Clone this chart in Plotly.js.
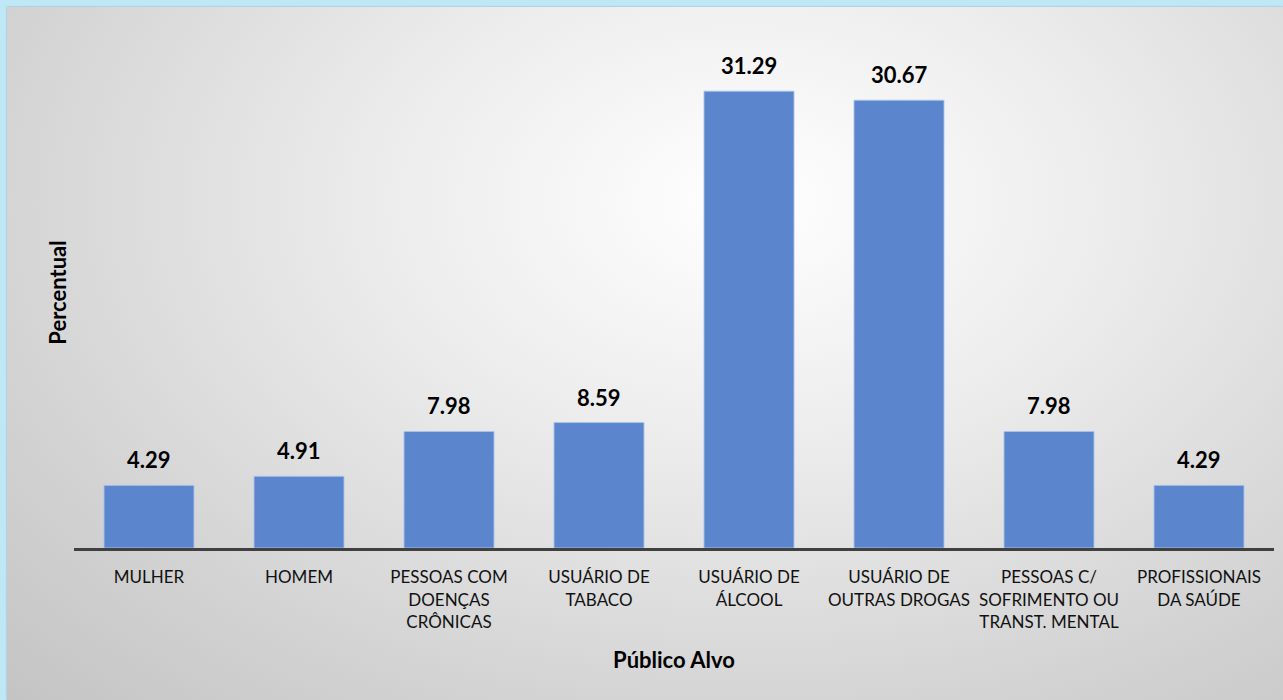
<!DOCTYPE html>
<html>
<head>
<meta charset="utf-8">
<script src="https://cdn.plot.ly/plotly-3.0.1.min.js"></script>
<style>
  html, body { margin: 0; padding: 0; width: 1283px; height: 700px; overflow: hidden; background: #BFE8F6; }
  #frame { position: absolute; left: 7px; top: 7px; width: 1276px; height: 693px;
    background: radial-gradient(ellipse farthest-corner at 58% 28%, #ffffff 0%, #ececec 35%, #d2d2d2 75%, #c4c4c4 100%);
    box-shadow: 0 0 2px rgba(0,0,0,0.25); }
  #chart { position: absolute; left: 0; top: 0; width: 1283px; height: 700px; }
</style>
</head>
<body>
<div id="frame"></div>
<div id="chart"></div>
<script>
const categories = [
  "MULHER",
  "HOMEM",
  "PESSOAS COM<br>DOENÇAS<br>CRÔNICAS",
  "USUÁRIO DE<br>TABACO",
  "USUÁRIO DE<br>ÁLCOOL",
  "USUÁRIO DE<br>OUTRAS DROGAS",
  "PESSOAS C/<br>SOFRIMENTO OU<br>TRANST. MENTAL",
  "PROFISSIONAIS<br>DA SAÚDE"
];
const values = [4.29, 4.91, 7.98, 8.59, 31.29, 30.67, 7.98, 4.29];
const valueLabels = ["4.29", "4.91", "7.98", "8.59", "31.29", "30.67", "7.98", "4.29"];

const FONT = "Lato, 'Open Sans', 'Liberation Sans', sans-serif";

const trace = {
  type: "bar",
  x: categories,
  y: values,
  marker: { color: "#5B86CD", line: { color: "rgba(170,195,235,0.9)", width: 1 } },
  hoverinfo: "x+y"
};

const annotations = categories.map((c, i) => ({
  x: c, y: values[i], xref: "x", yref: "y",
  text: "<b>" + valueLabels[i] + "</b>",
  showarrow: false, yanchor: "bottom", yshift: 10,
  font: { family: FONT, size: 22, color: "#000000" }
}));

const layout = {
  width: 1283, height: 700,
  paper_bgcolor: "rgba(0,0,0,0)",
  plot_bgcolor: "rgba(0,0,0,0)",
  margin: { l: 74, r: 9, t: 37, b: 152 },
  bargap: 0.4,
  showlegend: false,
  font: { family: FONT, color: "#000000" },
  xaxis: {
    showline: true, linecolor: "#404040", linewidth: 3,
    ticks: "", showgrid: false, zeroline: false,
    ticklabelstandoff: 12,
    tickfont: { family: FONT, size: 17, color: "#111111" },
    title: { text: "<b>Público Alvo</b>", font: { family: FONT, size: 22, color: "#000" }, standoff: 23 }
  },
  yaxis: {
    range: [0, 35],
    showticklabels: false, showgrid: false, zeroline: false, showline: false, ticks: "",
    title: { text: "<b>Percentual</b>", font: { family: FONT, size: 22, color: "#000" }, standoff: 0 }
  },
  annotations: annotations
};

Plotly.newPlot("chart", [trace], layout, { displayModeBar: false, staticPlot: true });
</script>
</body>
</html>
